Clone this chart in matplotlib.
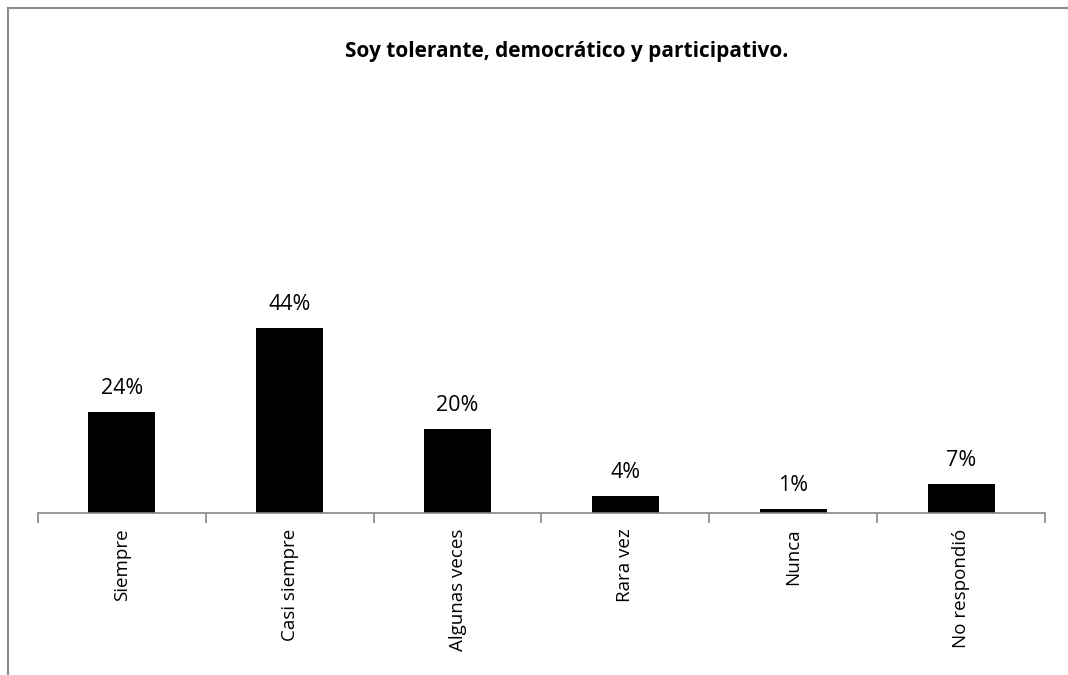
import matplotlib
matplotlib.use("Agg")
import matplotlib.pyplot as plt
from matplotlib.lines import Line2D

categories = ["Siempre", "Casi siempre", "Algunas veces", "Rara vez", "Nunca", "No respondió"]
values = [24, 44, 20, 4, 1, 7]
labels = ["24%", "44%", "20%", "4%", "1%", "7%"]
title = "Soy tolerante, democrático y participativo."

W, H = 1068, 675
fig = plt.figure(figsize=(W / 100, H / 100), dpi=100)
fig.patch.set_facecolor("white")

# chart border (top and left visible)
fig.add_artist(Line2D([8 / W, 8 / W], [0, 1 - 8 / H], color="#8c8c8c", lw=1.5, transform=fig.transFigure))
fig.add_artist(Line2D([8 / W, 1], [1 - 8 / H, 1 - 8 / H], color="#8c8c8c", lw=1.5, transform=fig.transFigure))

x0, x1 = 38, 1045
yb, yt = 513, 93
ax = fig.add_axes([x0 / W, 1 - yb / H, (x1 - x0) / W, (yb - yt) / H])
n = len(categories)
pos = list(range(n))
ax.bar(pos, values, width=0.4, color="black")
ax.set_xlim(-0.5, n - 0.5)
ax.set_ylim(0, 100)
for s in ["top", "right", "left"]:
    ax.spines[s].set_visible(False)
ax.spines["bottom"].set_color("#868686")
ax.spines["bottom"].set_linewidth(1.2)
ax.set_yticks([])
ax.set_xticks(pos)
ax.set_xticklabels(categories, rotation=90, fontsize=13.5, family="Open Sans", va="top")
ax.tick_params(axis="x", which="major", length=0, pad=11)
ax.set_xticks([p - 0.5 for p in range(n + 1)], minor=True)
ax.tick_params(axis="x", which="minor", length=7, width=1.2, color="#868686", direction="out")
for p, v, l in zip(pos, values, labels):
    ax.annotate(l, (p, v), xytext=(0, 13), textcoords="offset points", ha="center", va="baseline",
                fontsize=15.5, family="Open Sans")

fig.text(567 / W, 1 - 52 / H, title, ha="center", va="center", fontsize=15, fontweight="bold", family="Open Sans")
fig.savefig("out.png", dpi=100)
